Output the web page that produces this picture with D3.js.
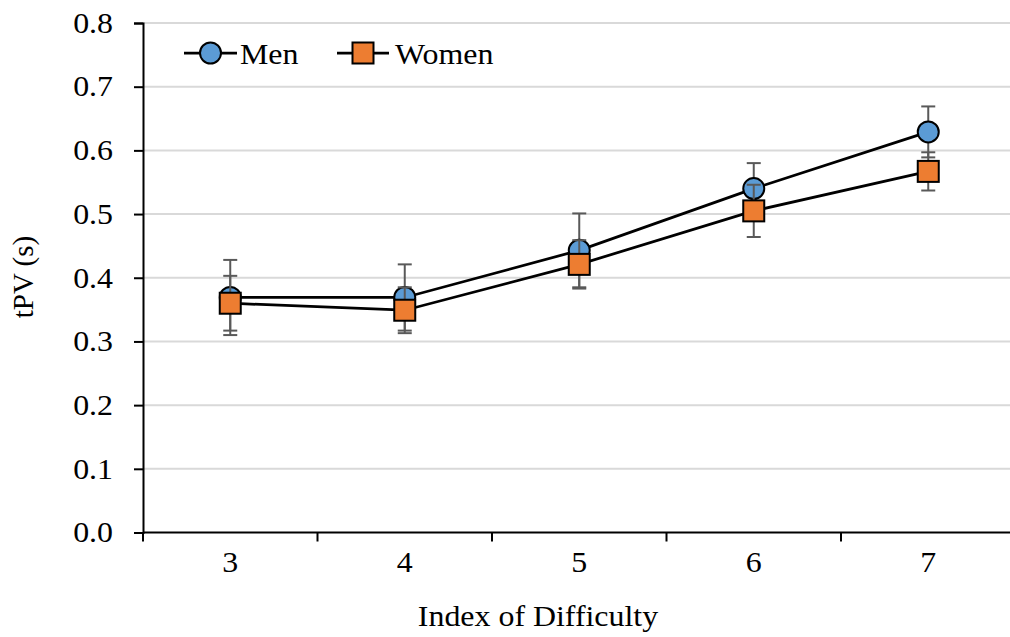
<!DOCTYPE html>
<html><head><meta charset="utf-8">
<script src="https://cdn.jsdelivr.net/npm/d3@7"></script>
<style>body{margin:0;background:#fff;} svg{display:block;font-family:"Liberation Serif","Times New Roman",serif;}</style>
</head><body>
<svg id="c" width="1010" height="637"></svg>
<script>
const categories = ["3","4","5","6","7"];
const menValues = [0.369, 0.369, 0.443, 0.540, 0.629];
const menErrors = [0.059, 0.052, 0.058, 0.040, 0.040];
const womenValues = [0.360, 0.349, 0.421, 0.505, 0.567];
const womenErrors = [0.043, 0.036, 0.038, 0.041, 0.030];
const yTicks = [0, 0.1, 0.2, 0.3, 0.4, 0.5, 0.6, 0.7, 0.8];

(function () {
const FS = 29, SX = 1.1;
const svg = d3.select("#c");
const pLeft = 143, pRight = 1015.5, pTop = 23, pBottom = 532.5;
const x = d3.scaleBand().domain(categories).range([pLeft, pRight]).padding(0);
const y = d3.scaleLinear().domain([0, 0.8]).range([pBottom, pTop]);
const cx = c => x(c) + x.bandwidth() / 2;
const stretch = function () {
  const ax = +(this.getAttribute("x") || 0);
  return `translate(${ax * (1 - SX)},0) scale(${SX},1)`;
};

// gridlines
svg.append("g").selectAll("line").data(yTicks.slice(1)).join("line")
  .attr("x1", pLeft).attr("x2", 1010).attr("y1", d => y(d)).attr("y2", d => y(d))
  .attr("stroke", "#d9d9d9").attr("stroke-width", 2);

// y axis
const ya = svg.append("g").attr("transform", `translate(${pLeft},0)`)
  .call(d3.axisLeft(y).tickValues(yTicks).tickFormat(d3.format(".1f")).tickSize(9).tickPadding(21));
ya.select(".domain").attr("stroke", "#000").attr("stroke-width", 2);
ya.selectAll(".tick line").attr("stroke", "#000").attr("stroke-width", 2);
ya.selectAll(".tick text").attr("font-size", FS).attr("fill", "#000")
  .attr("font-family", "Liberation Serif").attr("transform", stretch);

// x axis
const xa = svg.append("g").attr("transform", `translate(0,${pBottom})`)
  .call(d3.axisBottom(x).tickSize(0).tickPadding(19));
xa.select(".domain").attr("stroke", "#000").attr("stroke-width", 2).attr("d", `M${pLeft},0H1010`);
xa.selectAll(".tick text").attr("font-size", FS).attr("fill", "#000")
  .attr("font-family", "Liberation Serif").attr("transform", stretch);
const boundaries = categories.map(c => x(c)).concat([pRight]);
xa.append("g").selectAll("line").data(boundaries).join("line")
  .attr("x1", d => d).attr("x2", d => d).attr("y1", 0).attr("y2", 9)
  .attr("stroke", "#000").attr("stroke-width", 2);

// axis titles
svg.append("text").attr("transform", `translate(538,626) scale(${SX},1)`).attr("text-anchor", "middle")
  .attr("font-size", FS).text("Index of Difficulty");
svg.append("text").attr("transform", `translate(33,277) rotate(-90)`).attr("text-anchor", "middle")
  .attr("font-size", FS).text("tPV (s)");

const series = [
  {name: "Men", values: menValues, errors: menErrors, color: "#5b9bd5", shape: "circle"},
  {name: "Women", values: womenValues, errors: womenErrors, color: "#ed7d31", shape: "square"}
];

const line = d3.line().x((d, i) => cx(categories[i])).y(d => y(d));

series.forEach(s => {
  const g = svg.append("g");
  const eb = g.append("g").attr("stroke", "#595959").attr("stroke-width", 2);
  s.values.forEach((v, i) => {
    const px = cx(categories[i]);
    const y1 = y(v + s.errors[i]), y2 = y(v - s.errors[i]);
    eb.append("line").attr("x1", px).attr("x2", px).attr("y1", y1).attr("y2", y2);
    eb.append("line").attr("x1", px - 7).attr("x2", px + 7).attr("y1", y1).attr("y2", y1);
    eb.append("line").attr("x1", px - 7).attr("x2", px + 7).attr("y1", y2).attr("y2", y2);
  });
  g.append("path").datum(s.values).attr("d", line).attr("fill", "none")
    .attr("stroke", "#000").attr("stroke-width", 2.75);
  s.values.forEach((v, i) => {
    const px = cx(categories[i]), py = y(v);
    if (s.shape === "circle") {
      g.append("circle").attr("cx", px).attr("cy", py).attr("r", 10.5)
        .attr("fill", s.color).attr("stroke", "#000").attr("stroke-width", 2);
    } else {
      g.append("rect").attr("x", px - 10.5).attr("y", py - 10.5).attr("width", 21).attr("height", 21)
        .attr("fill", s.color).attr("stroke", "#000").attr("stroke-width", 2);
    }
  });
});

// legend
const lg = svg.append("g");
const legendItems = [
  {s: series[0], x0: 184, x1: 237, tx: 240},
  {s: series[1], x0: 337, x1: 389, tx: 395}
];
legendItems.forEach(li => {
  const ly = 53, mx = (li.x0 + li.x1) / 2;
  lg.append("line").attr("x1", li.x0).attr("x2", li.x1).attr("y1", ly).attr("y2", ly)
    .attr("stroke", "#000").attr("stroke-width", 2.75);
  if (li.s.shape === "circle") {
    lg.append("circle").attr("cx", mx).attr("cy", ly).attr("r", 10.5)
      .attr("fill", li.s.color).attr("stroke", "#000").attr("stroke-width", 2);
  } else {
    lg.append("rect").attr("x", mx - 10.5).attr("y", ly - 10.5).attr("width", 21).attr("height", 21)
      .attr("fill", li.s.color).attr("stroke", "#000").attr("stroke-width", 2);
  }
  lg.append("text").attr("transform", `translate(${li.tx},${ly + 11}) scale(${SX},1)`)
    .attr("font-size", FS).text(li.s.name);
});
})();
</script>
</body></html>
